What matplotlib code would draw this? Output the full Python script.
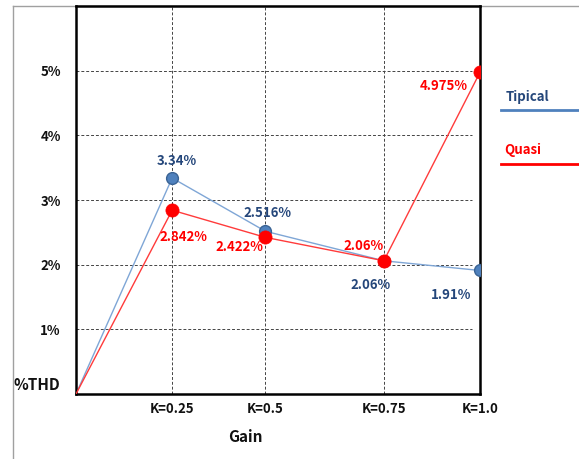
import matplotlib
matplotlib.use("Agg")
import matplotlib.pyplot as plt
from matplotlib.lines import Line2D
from matplotlib.transforms import ScaledTranslation

plt.rcParams['font.family'] = ['Noto Sans CJK KR', 'DejaVu Sans']

# Gain settings (positions along the horizontal axis) and tick labels
gain_pos = [0.0, 0.238, 0.469, 0.762, 1.0]
gain_labels = ["K=0.25", "K=0.5", "K=0.75", "K=1.0"]

# %THD for each converter type (both start at the origin)
thd_tipical = [0.0, 3.34, 2.516, 2.06, 1.91]
thd_quasi = [0.0, 2.842, 2.422, 2.06, 4.975]

y_ticks = [0, 1, 2, 3, 4, 5]
y_labels = ["%THD", "1%", "2%", "3%", "4%", "5%"]

# label offsets in pixels for each annotated point (index 1..4)
tip_offsets = [(5, 17), (2, 18), (-13, -24), (-29, -25)]
qua_offsets = [(11, -27), (-26, -10), (-20, 15), (-36, -14)]

blue_line = "#7FA6D6"
blue_mark = "#4F81BD"
blue_edge = "#3A6394"
blue_text = "#24467A"
red = "#FF0000"

W, H = 579, 459
fig = plt.figure(figsize=(W / 100, H / 100), dpi=100)
ax = fig.add_axes([76 / W, 1 - 394 / H, (480 - 76) / W, (394 - 6) / H])

ax.set_xlim(0, 1)
ax.set_ylim(0, 6)

# dashed grid: horizontal lines stop a little short of the right edge
for y in y_ticks[1:]:
    ax.plot([0, 0.98], [y, y], ls=(0, (3, 2)), color="#444444", lw=0.7, zorder=1)
for x in gain_pos[1:-1]:
    ax.axvline(x, ls=(0, (3, 2)), color="#444444", lw=0.7, zorder=1)

ax.plot(gain_pos, thd_tipical, color=blue_line, lw=1.0, zorder=2)
ax.plot(gain_pos[1:], thd_tipical[1:], ls="none", marker="o", ms=8.5,
        mfc=blue_mark, mec=blue_edge, mew=1.0, zorder=3)
ax.plot(gain_pos, thd_quasi, color="#FF3B3B", lw=1.0, zorder=4)
ax.plot(gain_pos[1:], thd_quasi[1:], ls="none", marker="o", ms=9.5,
        mfc=red, mec=red, mew=0.5, zorder=5)

for x, v, off in zip(gain_pos[1:], thd_tipical[1:], tip_offsets):
    ax.annotate(f"{v:g}%", (x, v), xytext=off, textcoords="offset pixels",
                ha="center", va="center", color=blue_text, fontsize=9.5,
                fontweight="bold", zorder=6, annotation_clip=False)
for x, v, off in zip(gain_pos[1:], thd_quasi[1:], qua_offsets):
    ax.annotate(f"{v:g}%", (x, v), xytext=off, textcoords="offset pixels",
                ha="center", va="center", color=red, fontsize=9.5,
                fontweight="bold", zorder=6, annotation_clip=False)

ax.set_yticks(y_ticks)
ax.set_yticklabels(y_labels, fontsize=9.5, fontweight="bold", color="#111111")
ax.set_xticks(gain_pos[1:])
ax.set_xticklabels(gain_labels, fontsize=9.5, fontweight="bold", color="#111111")
ax.tick_params(axis="x", length=0, pad=6)
ax.tick_params(axis="y", length=0, pad=11)
thd_lbl = ax.get_yticklabels()[0]
thd_lbl.set_fontsize(11)
thd_lbl.set_transform(thd_lbl.get_transform()
                      + ScaledTranslation(0, 10 / 100, fig.dpi_scale_trans))

for s in ax.spines.values():
    s.set_linewidth(1.8)
    s.set_color("black")

fig.text(245 / W, 1 - 437 / H, "Gain", ha="center", va="center",
         fontsize=11, fontweight="bold", color="#111111")

# legend drawn as label text with a line underneath
fig.text(527 / W, 1 - 97 / H, "Tipical", ha="center", va="center",
         fontsize=9.5, fontweight="bold", color=blue_text)
fig.add_artist(Line2D([501 / W, 1.0], [1 - 109.5 / H] * 2, color=blue_mark, lw=2))
fig.text(523 / W, 1 - 150 / H, "Quasi", ha="center", va="center",
         fontsize=9.5, fontweight="bold", color=red)
fig.add_artist(Line2D([501 / W, 1.0], [1 - 164 / H] * 2, color=red, lw=2))

# outer frame
fig.add_artist(Line2D([13 / W, 13 / W], [0, 1 - 6 / H], color="#a0a0a0", lw=1.0))
fig.add_artist(Line2D([13 / W, 1.0], [1 - 6 / H] * 2, color="#a0a0a0", lw=1.0, zorder=0))

fig.savefig("out.png", dpi=100)
